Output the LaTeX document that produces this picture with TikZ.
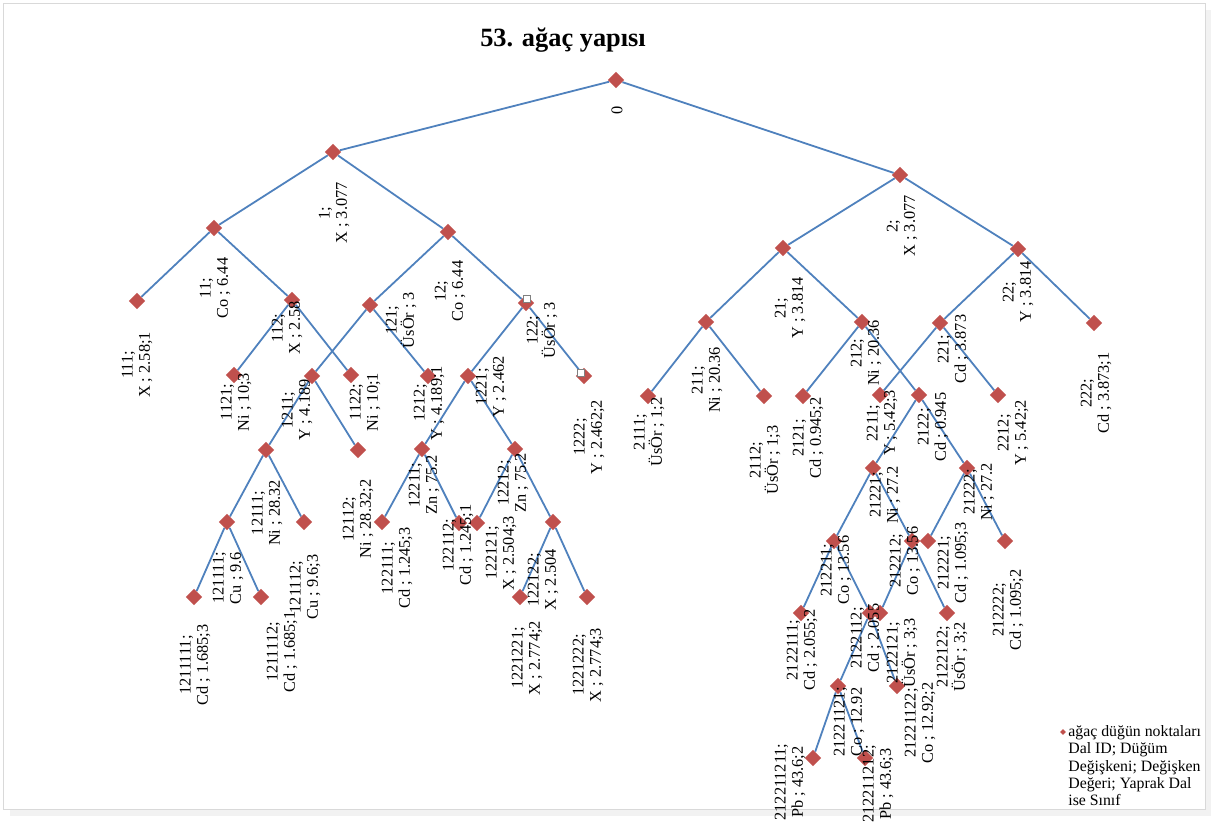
\documentclass[tikz,border=0pt]{standalone}
\usepackage{fontspec}
\setmainfont{Liberation Serif}
\usetikzlibrary{shapes.geometric,backgrounds}
\definecolor{dal}{HTML}{4F81BD}
\definecolor{nokta}{HTML}{C0504D}

\begin{document}
\begin{tikzpicture}[x=.2mm,y=-.2mm,
  pt/.style={diamond,fill=nokta,inner sep=0pt,minimum size=3.3mm},
  lab/.style={rotate=90,align=center,inner sep=0pt,font=\fontsize{9.3}{9.8}\selectfont},
  kutu/.style={draw=gray,fill=white,inner sep=0pt,minimum size=1.4mm}]
  \useasboundingbox (0,0) rectangle (1213,825);
  \fill[gray!10] (1205,10) rectangle (1211,816);
  \fill[gray!10] (10,809) rectangle (1211,816);
  \draw[gray!30] (3,3) rectangle (1205,809);
  \node[font=\fontsize{15}{18}\selectfont\bfseries] (baslik) at (563,40) {53. ağaç yapısı};
  % dugum noktalari
  \foreach \n/\x/\y in {0/616/80,1/333/152,2/900/175,11/214/228,12/448/232,111/137/301,112/292/300,
    121/370/305,122/526/303,1121/234/375,1122/351/375,1211/312/376,1212/428/376,1221/468/376,1222/584/376,
    12111/266/450,12112/358/450,12211/422/449,12212/515/449,121111/227/522,121112/304/522,
    122111/382/522,122112/459/523,122121/477/523,122122/553/522,1211111/194/597,1211112/261/597,
    1221221/520/597,1221222/587/597,21/783/248,22/1018/249,211/706/322,212/862/322,221/940/323,
    222/1094/323,2111/648/396,2112/764/396,2121/803/396,2122/919/395,2211/880/395,2212/998/395,
    21221/873/468,21222/967/468,212211/834/541,212212/912/541,212221/928/541,212222/1005/541,
    2122111/801/613,2122112/870/613,2122121/880/613,2122122/947/613,21221121/838/686,
    21221122/897/686,212211211/813/758,212211212/865/758}
    {\node[pt] (n\n) at (\x,\y) {};}
  \begin{scope}[on background layer]
  \foreach \a/\b in {0/1,0/2,1/11,1/12,11/111,11/112,112/1121,112/1122,12/121,12/122,121/1211,
    121/1212,1211/12111,1211/12112,12111/121111,12111/121112,121111/1211111,121111/1211112,
    122/1221,122/1222,1221/12211,1221/12212,12211/122111,12211/122112,12212/122121,12212/122122,
    122122/1221221,122122/1221222,2/21,2/22,21/211,21/212,211/2111,211/2112,212/2121,212/2122,
    22/221,22/222,221/2211,221/2212,2122/21221,2122/21222,21221/212211,21221/212212,
    21222/212221,21222/212222,212211/2122111,212211/2122112,212212/2122121,212212/2122122,
    2122112/21221121,2122112/21221122,21221121/212211211,21221121/212211212}
    {\draw[dal,line width=.36mm] (n\a) -- (n\b);}
  \end{scope}
  \node[kutu] (s122) at (527,299) {};
  \node[kutu] (s1222) at (581,373) {};
  % etiketler
  \node[lab] (l0) at (617,110) {0};
  \foreach \n/\x/\y/\t in {1/334/213/X ; 3.077,11/215/288/Co ; 6.44,111/137/365/X ; 2.58;1,
    112/287/328/X ; 2.58,1121/236/402/Ni ; 10;3,1211/297/410/Y ; 4.189,1122/365/402/Ni ; 10;1,
    121/401/320/ÜsÖr ; 3,12/450/291/Co ; 6.44,1212/429/403/Y ; 4.189;1,122/542/330/ÜsÖr ; 3,
    1221/491/387/Y ; 2.462,1222/589/437/Y ; 2.462;2,12211/424/485/Zn ; 75.2,12212/513/483/Zn ; 75.2,
    122112/458/545/Cd ; 1.245;1,122121/501/553/X ; 2.504;3,122122/543/580/X ; 2.504,
    1221221/527/658/X ; 2.774;2,1221222/588/665/X ; 2.774;3,12111/267/513/Ni ; 28.32,
    121111/228/578/Cu ; 9.6,121112/305/587/Cu ; 9.6;3,1211111/195/665/Cd ; 1.685;3,
    1211112/282/652/Cd ; 1.685;1,12112/358/519/Ni ; 28.32;2,122111/397/568/Cd ; 1.245;3,
    2/902/226/X ; 3.077,21/790/308/Y ; 3.814,211/707/380/Ni ; 20.36,212/866/353/Ni ; 20.36,
    2111/649/432/ÜsÖr ; 1;2,2112/765/460/ÜsÖr ; 1;3,2121/808/438/Cd ; 0.945;2,
    2211/882/423/Y ; 5.42;3,22/1018/292/Y ; 3.814,221/953/349/Cd ; 3.873,222/1096/393/Cd ; 3.873;1,
    2122/933/427/Cd ; 0.945,2212/1013/433/Y ; 5.42;2,21221/885/495/Ni ; 27.2,21222/979/492/Ni ; 27.2,
    212211/836/570/Co ; 13.56,212212/905/561/Co ; 13.56,212221/953/563/Cd ; 1.095;3,
    212222/1008/610/Cd ; 1.095;2,2122111/802/650/Cd ; 2.055;2,2122112/866/638/Cd ; 2.055,
    2122121/902/653/ÜsÖr ; 3;3,2122122/952/657/ÜsÖr ; 3;2,21221121/849/722/Co ; 12.92,
    21221122/920/723/Co ; 12.92;2,212211211/790/782/Pb ; 43.6;2,212211212/878/784/Pb ; 43.6;3}
    {\node[lab] (l\n) at (\x,\y) {\n;\\\t};}
  % aciklama
  \node[pt,minimum size=1.2mm] (anahtar) at (1063,732) {};
  \node[anchor=north west,align=left,inner sep=0pt,font=\fontsize{9}{9.9}\selectfont] (anahtarmetin) at (1068,725)
    {ağaç düğün noktaları\\Dal ID; Düğüm\\Değişkeni; Değişken\\Değeri; Yaprak Dal\\ise Sınıf};
\end{tikzpicture}
\end{document}
